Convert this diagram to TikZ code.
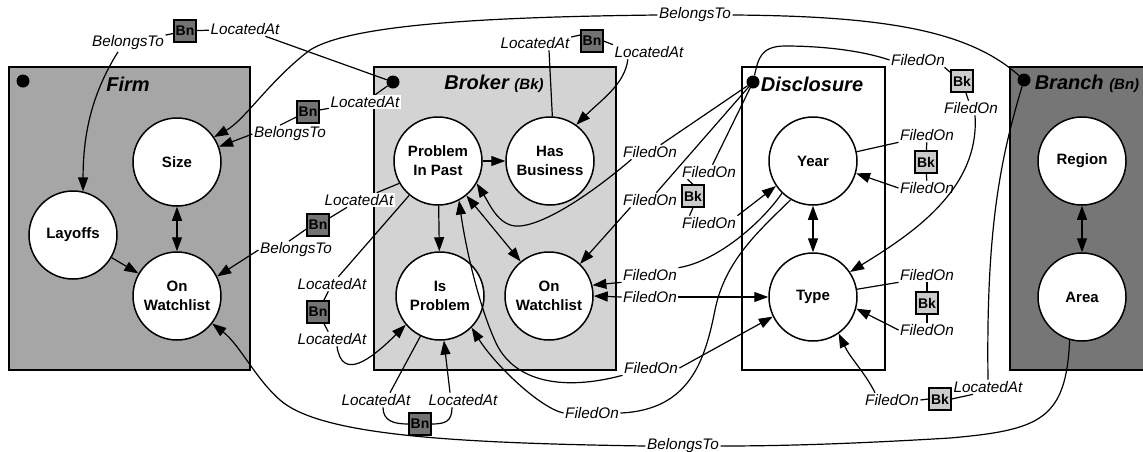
\documentclass[tikz,border=0pt]{standalone}
\usepackage{fontspec}
\setmainfont{Liberation Sans}
\usetikzlibrary{arrows.meta,calc}
\definecolor{firmfill}{RGB}{166,166,166}
\definecolor{brokerfill}{RGB}{211,211,211}
\definecolor{branchfill}{RGB}{118,118,118}
\definecolor{bnfill}{RGB}{115,115,115}
\definecolor{bkfill}{RGB}{204,204,204}
\begin{document}
\begin{tikzpicture}[x=1pt,y=-1pt,
 ent/.style={circle,draw,fill=white,line width=1.5pt,minimum size=88pt,inner sep=0pt,align=center,font=\bfseries\fontsize{15}{19}\selectfont},
 lab/.style={fill=white,inner sep=1.5pt,font=\itshape\fontsize{15.3}{18}\selectfont},
 bnbox/.style={draw,line width=1.2pt,fill=bnfill,minimum size=22pt,inner sep=0pt,font=\bfseries\fontsize{14}{16}\selectfont},
 bkbox/.style={bnbox,fill=bkfill},
 pdot/.style={circle,fill=black,minimum size=13pt,inner sep=0pt},
 plate/.style={draw,line width=1.8pt,anchor=north west,minimum height=303pt},
 title/.style={font=\bfseries\itshape\fontsize{20}{24}\selectfont,inner sep=0pt},
 edge/.style={line width=1.2pt},
 arr/.style={edge,-{Triangle[length=14pt,width=10pt]}},
 arrb/.style={edge,{Triangle[length=14pt,width=10pt]}-{Triangle[length=14pt,width=10pt]}},
]
\useasboundingbox (0,0) rectangle (1143,451);
% plates
\node[plate,fill=firmfill,minimum width=241pt] (firm) at (8,66) {};
\node[plate,fill=brokerfill,minimum width=242pt] (broker) at (373,66) {};
\node[plate,fill=white,minimum width=143pt] (disc) at (741,66) {};
\node[plate,fill=branchfill,minimum width=134pt] (branch) at (1009,66) {};
% titles
\node[title] (tfirm) at (128,84) {Firm};
\node[title] (tbroker) at (494,84) {Broker {\fontsize{15}{18}\selectfont(Bk)}};
\node[title] (tdisc) at (812,84) {Disclosure};
\node[title] (tbranch) at (1087,84) {Branch {\fontsize{15}{18}\selectfont(Bn)}};
% dots
\node[pdot] (dfirm) at (23,81) {};
\node[pdot] (dbk) at (393,82) {};
\node[pdot] (ddis) at (753,82) {};
\node[pdot] (dbn) at (1024,80) {};
% entities
\node[ent] (size) at (177,162) {Size};
\node[ent] (layoffs) at (73,235) {Layoffs};
\node[ent] (fow) at (177,296) {On\\Watchlist};
\node[ent] (pip) at (438,161) {Problem\\In Past};
\node[ent] (hb) at (550,161) {Has\\Business};
\node[ent] (isp) at (440,296) {Is\\Problem};
\node[ent] (bow) at (549,296) {On\\Watchlist};
\node[ent] (year) at (813,161) {Year};
\node[ent] (type) at (813,297) {Type};
\node[ent] (region) at (1082,161) {Region};
\node[ent] (area) at (1082,297) {Area};
% labels and boxes
\node[lab] (l1a) at (245,29) {LocatedAt};
\node[bnbox] (bn1) at (185,31) {Bn};
\node[lab] (l1b) at (128,43) {BelongsTo};
\node[lab] (l2) at (695,15) {BelongsTo};
\node[lab] (l3a) at (365,102) {LocatedAt};
\node[bnbox] (bn3) at (308,112) {Bn};
\node[lab] (l3b) at (290,134) {BelongsTo};
\node[lab] (l4a) at (359,200) {LocatedAt};
\node[bnbox] (bn4) at (318,225) {Bn};
\node[lab] (l4b) at (296,250) {BelongsTo};
\node[lab] (l5a) at (332,284) {LocatedAt};
\node[bnbox] (bn5) at (318,312) {Bn};
\node[lab] (l5b) at (332,339) {LocatedAt};
\node[lab] (l6a) at (376,400) {LocatedAt};
\node[bnbox] (bn6) at (420,424) {Bn};
\node[lab] (l6b) at (463,400) {LocatedAt};
\node[lab] (l7a) at (535,43) {LocatedAt};
\node[bnbox] (bn7) at (592,41) {Bn};
\node[lab] (l7b) at (649,52) {LocatedAt};
\node[lab] (la) at (650,152) {FiledOn};
\node[lab] (lb) at (650,200) {FiledOn};
\node[lab] (lc) at (709,172) {FiledOn};
\node[bkbox] (bkc) at (693,196) {Bk};
\node[lab] (lc2) at (709,223) {FiledOn};
\node[lab] (ld1) at (918,60) {FiledOn};
\node[bkbox] (bkd) at (962,81) {Bk};
\node[lab] (ld2) at (971,108) {FiledOn};
\node[lab] (le) at (650,275) {FiledOn};
\node[lab] (lh) at (650,297) {FiledOn};
\node[lab] (lg) at (651,368) {FiledOn};
\node[lab] (lf) at (592,413) {FiledOn};
\node[lab] (ly1) at (927,135) {FiledOn};
\node[bkbox] (bky) at (926,162) {Bk};
\node[lab] (ly2) at (927,188) {FiledOn};
\node[lab] (lt1) at (927,275) {FiledOn};
\node[bkbox] (bkt) at (927,303) {Bk};
\node[lab] (lt2) at (927,330) {FiledOn};
\node[lab] (lbr) at (988,387) {LocatedAt};
\node[bkbox] (bkb) at (940,399) {Bk};
\node[lab] (lfb) at (892,400) {FiledOn};
\node[lab] (lbel) at (683,446) {BelongsTo};
% internal edges
\draw[arrb] (size) -- (fow);
\draw[arr] (layoffs) -- (fow);
\draw[arr] (pip) -- (hb);
\draw[arr] (pip) -- (isp);
\draw[arrb] (pip) -- (bow);
\draw[arrb] (year) -- (type);
\draw[arrb] (region) -- (area);
% path 1
\draw[edge] (l1a) -- (dbk);
\draw[edge] (l1a) -- (bn1);
\draw[edge] (bn1) -- (l1b);
\draw[arr] ($(l1b.south)+(-10,0)$) .. controls +(-25,40) and +(0,-60) .. (layoffs.77);
% path 2
\draw[edge] (dbn) .. controls (970,32) and (890,16) .. (l2.east);
\draw[arr] (l2.west) .. controls (480,17) and (350,25) .. (310,50) .. controls (270,80) and (245,120) .. (size.34);
% path 3
\draw[edge] (l3a) -- (dbk);
\draw[edge] (l3a) -- (bn3);
\draw[edge] ($(bn3.west)+(0,5)$) -- ($(l3b.north)+(-10,0)$);
\draw[arr] (l3b.west) -- (size.20);
% path 4
\draw[edge] (pip.210) -- (l4a);
\draw[edge] (l4a) -- (bn4);
\draw[edge] ($(bn4.west)+(0,4)$) -- ($(l4b.north)+(-7,0)$);
\draw[arr] (l4b.west) -- (fow.26);
% path 5
\draw[edge] (pip.230) -- (l5a);
\draw[edge] (l5a) -- (bn5);
\draw[edge] (bn5) -- (l5b);
\draw[arr] ($(l5b.south)+(5,0)$) .. controls +(5,35) and +(-35,35) .. (isp.220);
% path 6
\draw[edge] (isp.244) -- ($(l6a.north)+(14,0)$);
\draw[edge] ($(l6a.south)+(7,0)$) .. controls +(0,14) and +(-14,0) .. (bn6.west);
\draw[edge] (bn6.east) .. controls +(14,0) and +(0,14) .. ($(l6b.south)+(-11,0)$);
\draw[arr] ($(l6b.north)+(-13,0)$) -- (isp.275);
% path 7
\draw[edge] (hb.87) -- ($(l7a.south)+(14,0)$);
\draw[edge] ($(l7a.east)+(0,-6)$) -- ($(bn7.west)+(0,-6)$);
\draw[edge] (bn7.east) -- (l7b.north west);
\draw[arr] ($(l7b.south west)+(15,0)$) .. controls +(-3,25) and +(25,-25) .. (hb.54);
% FiledOn from disclosure dot
\draw[edge] (ddis) -- (la);
\draw[arr] ($(la.south west)+(10,0)$) .. controls (590,195) and (540,228) .. (515,226) .. controls (498,224) and (490,205) .. (pip.330);
\draw[edge] (ddis) -- (lb);
\draw[arr] ($(lb.south west)+(9,0)$) -- (bow.46);
\draw[edge] (ddis) -- (lc);
\draw[edge] ($(lc.south west)+(7,0)$) -- (bkc.north);
\draw[edge] (bkc.south) -- ($(lc2.north west)+(9,0)$);
\draw[arr] (lc2.north east) -- (year.214);
\draw[edge] (ddis) .. controls (758,60) and (760,46) .. (785,46) .. controls (820,46) and (860,50) .. (ld1.west);
\draw[edge] ($(ld1.south east)+(-2,0)$) -- ($(bkd.north west)+(0,3)$);
\draw[edge] (bkd) -- (ld2);
\draw[arr] ($(ld2.south)+(4,0)$) .. controls (980,190) and (910,235) .. (type.34);
% other FiledOn
\draw[arr] (le.south west) -- (bow.14);
\draw[edge] (le.north east) .. controls (715,262) and (760,225) .. (year.226);
\draw[arr] (lh.west) -- (bow.east);
\draw[arr] (lh.east) -- (type.west);
\draw[arr] (lg.south west) .. controls (560,392) and (515,380) .. (497,345) .. controls (480,310) and (466,250) .. (pip.298);
\draw[arr] (lg.east) -- (type.206);
\draw[arr] (lf.west) .. controls (540,408) and (495,365) .. (isp.315);
\draw[edge] (lf.east) .. controls (690,410) and (705,360) .. (715,310) .. controls (725,260) and (760,230) .. (year.240);
% year / type loops
\draw[edge] (year.12) -- (ly1.south west);
\draw[edge] (ly1) -- (bky);
\draw[edge] (bky) -- (ly2);
\draw[arr] (ly2.west) -- (year.344);
\draw[edge] (type.10) -- (lt1.south west);
\draw[edge] (lt1) -- (bkt);
\draw[edge] (bkt) -- (lt2);
\draw[arr] (lt2.west) -- (type.345);
% branch
\draw[edge] (dbn) .. controls (1000,160) and (986,230) .. (lbr.north);
\draw[edge] ($(lbr.south)+(-15,0)$) -- (bkb.east);
\draw[edge] (bkb.west) -- (lfb.east);
\draw[arr] ($(lfb.north)+(-17,0)$) .. controls +(-10,-20) and +(12,25) .. (type.305);
\draw[edge] (area.254) .. controls (1066,420) and (1040,430) .. (950,438) .. controls (850,444) and (780,446) .. (lbel.east);
\draw[arr] (lbel.west) .. controls (450,443) and (320,435) .. (280,400) .. controls (255,378) and (240,345) .. (fow.322);
\end{tikzpicture}
\end{document}
